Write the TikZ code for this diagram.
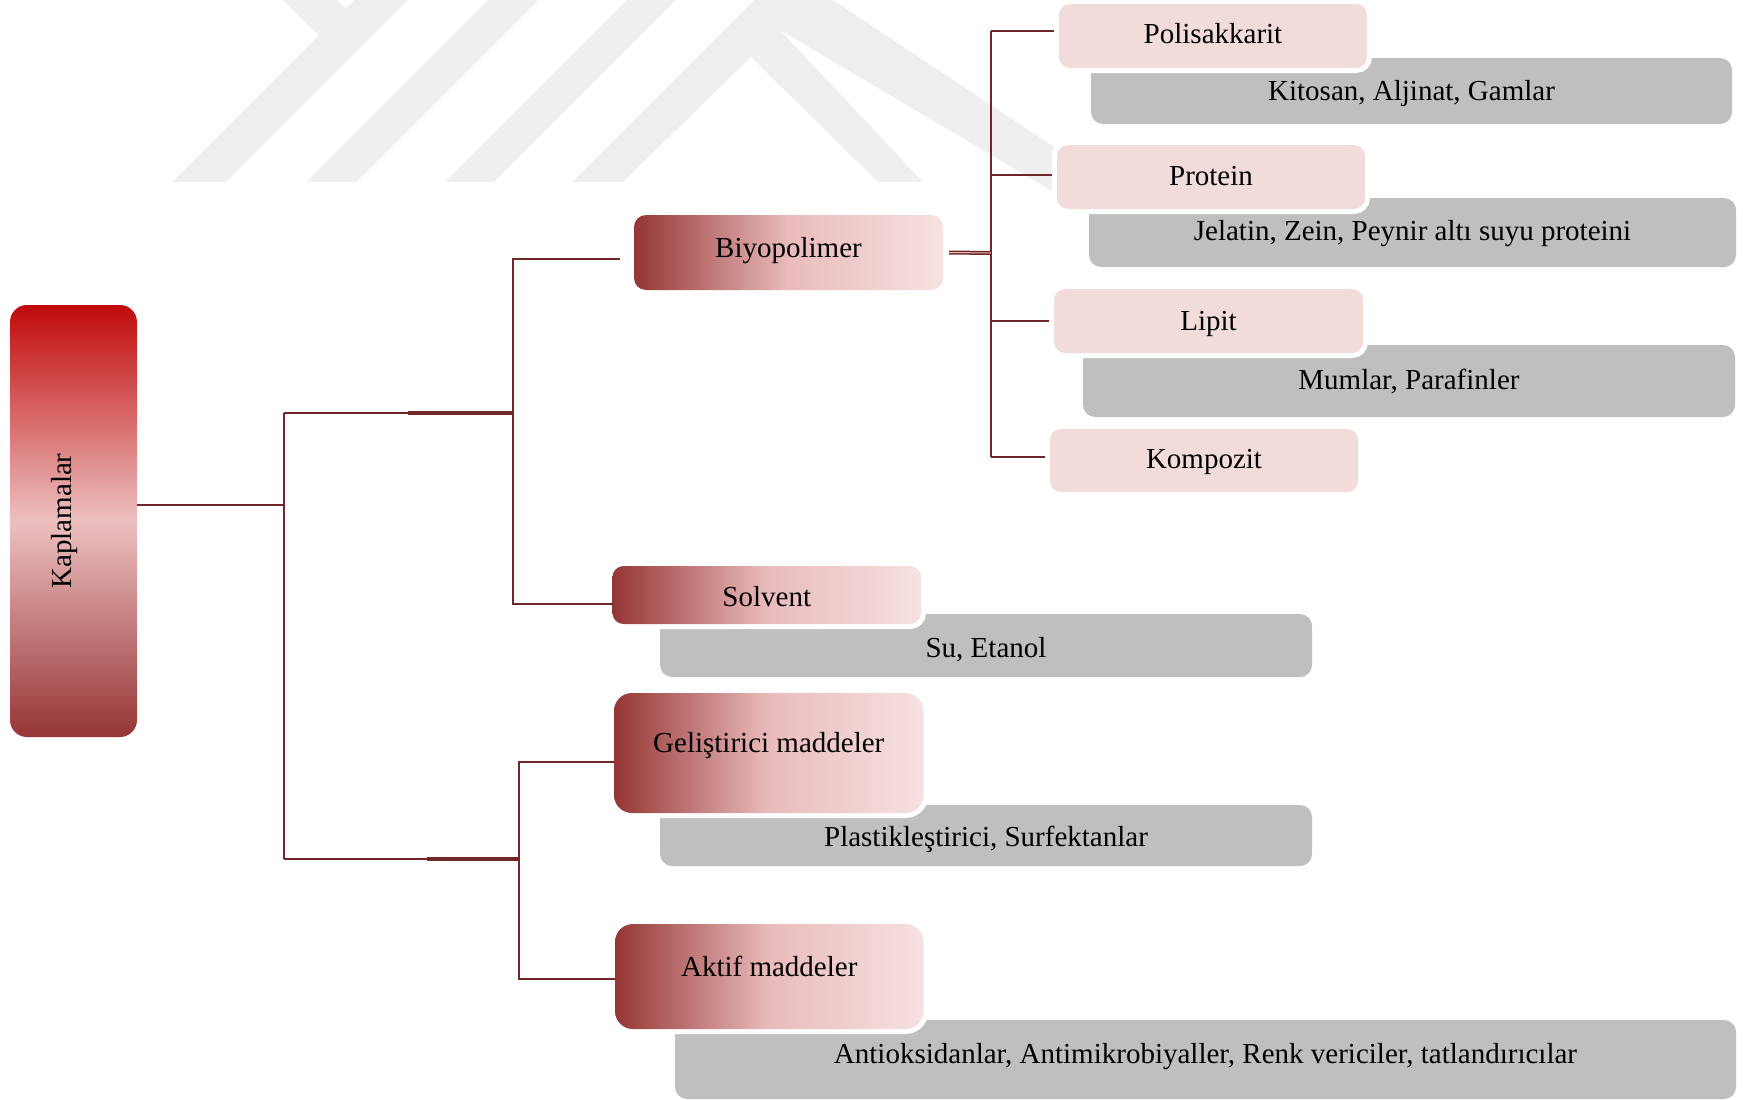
\documentclass[tikz,border=0pt]{standalone}
\usepackage{fontspec}
\setmainfont{Liberation Serif}
\definecolor{pinkfill}{HTML}{F2DCDB}
\definecolor{grayfill}{HTML}{BFBFBF}
\definecolor{gl}{HTML}{943634}
\definecolor{gm}{HTML}{EABBBB}
\definecolor{gr}{HTML}{F6E1E1}
\definecolor{kt}{HTML}{C00A0A}
\definecolor{km}{HTML}{EDC0C0}
\definecolor{kb}{HTML}{963535}
\definecolor{linec}{HTML}{6E2828}
\definecolor{wmc}{HTML}{EFEFEF}
\begin{document}
\begin{tikzpicture}[x=1pt,y=-1pt,
  txt/.style={font=\fontsize{29}{34}\selectfont, inner sep=0pt, outer sep=0pt},
  tb/.style 2 args={text height=#1pt, text depth=#2pt},
  graybox/.style={txt, fill=grayfill, rounded corners=12pt},
  pinkbox/.style={txt, fill=pinkfill, rounded corners=11pt, preaction={draw=white, line width=10pt}},
  gradbox/.style={txt, left color=gl, right color=gr, middle color=gm, rounded corners=#1, preaction={draw=white, line width=10pt}},
  conn/.style={draw=linec, line width=2pt},
  connthick/.style={draw=linec, line width=3.6pt},
  conndouble/.style={draw=linec, line width=1.5pt, double=gm, double distance=1pt},
  wm/.style={fill=wmc},
]
\useasboundingbox (0,0) rectangle (1743,1100);

% watermark
\fill[wm] (172,182) -- (318.5,35.5) -- (283,0) -- (337,0) -- (345.5,8.5) -- (354,0) -- (408,0) -- (226,182) -- cycle;
\fill[wm] (306,182) -- (488,0) -- (538,0) -- (356,182) -- cycle;
\fill[wm] (445,182) -- (627,0) -- (676,0) -- (494,182) -- cycle;
\fill[wm] (572,182) -- (754,0) -- (833,0) -- (1057,149) -- (1057,194) -- (780,30) -- (923,182) -- (878,182) -- (751,57) -- (623,182) -- cycle;

% gray boxes
\node[graybox, minimum width=641, minimum height=66, tb={24}{4.6}] (kito) at (1411.5,91) {Kitosan, Aljinat, Gamlar};
\node[graybox, minimum width=647, minimum height=69, tb={24}{7.6}] (jel) at (1412.5,232.5) {Jelatin, Zein, Peynir altı suyu proteini};
\node[graybox, minimum width=652, minimum height=72, tb={24}{7.4}] (mum) at (1409,381) {Mumlar, Parafinler};
\node[graybox, minimum width=652, minimum height=63, tb={24}{0.4}] (su) at (986,645.5) {Su, Etanol};
\node[graybox, minimum width=652, minimum height=61, tb={24}{1.6}] (plas) at (986,835.5) {Plastikleştirici, Surfektanlar};
\node[graybox, minimum width=1061, minimum height=79, tb={24}{17}] (anti) at (1205.5,1059.5) {Antioksidanlar, Antimikrobiyaller, Renk vericiler, tatlandırıcılar};

% junctions
\coordinate (jA) at (284,505);
\coordinate (jTop) at (284,413);
\coordinate (jBot) at (284,859);
\coordinate (jB) at (513,413);
\coordinate (jBt) at (408,413);
\coordinate (jC) at (519,859);
\coordinate (jCt) at (427,859);
\coordinate (jD) at (991,253);
\coordinate (v1) at (991,31);
\coordinate (v2) at (991,175);
\coordinate (v3) at (991,321);
\coordinate (v4) at (991,457);

% Kaplamalar
\node[txt, top color=kt, bottom color=kb, middle color=km, rounded corners=17pt, minimum width=127, minimum height=432] (kap) at (73.5,521)
  {\rotatebox{90}{\raisebox{0pt}[22pt][25.6pt]{Kaplamalar}}};

% connectors (drawn below the boxes)
\draw[conn] (kap.east |- jA) -- (jA);
\draw[conn] (jTop) -- (jBot);
\draw[conn] (jTop) -- (jB);
\draw[connthick] (jBt) -- (jB);
\draw[conn] (jBot) -- (jC);
\draw[connthick] (jCt) -- (jC);
\draw[conn] (v1) -- (v4);
\draw[conn] (v1) -- (1059,31);
\draw[conn] (v2) -- (1057,175);
\draw[conn] (v3) -- (1054,321);
\draw[conn] (v4) -- (1050,457);

% pink boxes
\node[pinkbox, minimum width=308, minimum height=64, tb={24}{9.4}] (poli) at (1213,36) {Polisakkarit};
\node[pinkbox, minimum width=308, minimum height=64, tb={24}{7.4}] (prot) at (1211,177) {Protein};
\node[pinkbox, minimum width=309, minimum height=64, tb={24}{6}] (lipit) at (1208.5,321) {Lipit};
\node[pinkbox, minimum width=308, minimum height=63, tb={24}{8.4}] (komp) at (1204,460.5) {Kompozit};

% gradient boxes
\node[gradbox=12pt, minimum width=309, minimum height=75, tb={24}{14.4}] (biyo) at (788.5,252.5) {Biyopolimer};
\node[gradbox=11pt, minimum width=308.5, minimum height=58, tb={24}{2}] (solv) at (766.75,595) {Solvent};
\node[gradbox=18pt, minimum width=309.5, minimum height=120, tb={24}{26}] (gel) at (768.75,753) {Geliştirici maddeler};
\node[gradbox=18pt, minimum width=308.5, minimum height=105, tb={24}{25}] (aktif) at (769.25,976.5) {Aktif maddeler};

% connectors to the gradient boxes
\draw[conn] ([xshift=-14pt,yshift=-6.5pt]biyo.west) -| (jB) |- ([yshift=-9pt]solv.west);
\draw[conndouble] ([xshift=6pt]biyo.east) -- (jD);
\draw[conn] ([yshift=-9pt]gel.west) -| (jC) |- ([yshift=-2.5pt]aktif.west);
\end{tikzpicture}
\end{document}
